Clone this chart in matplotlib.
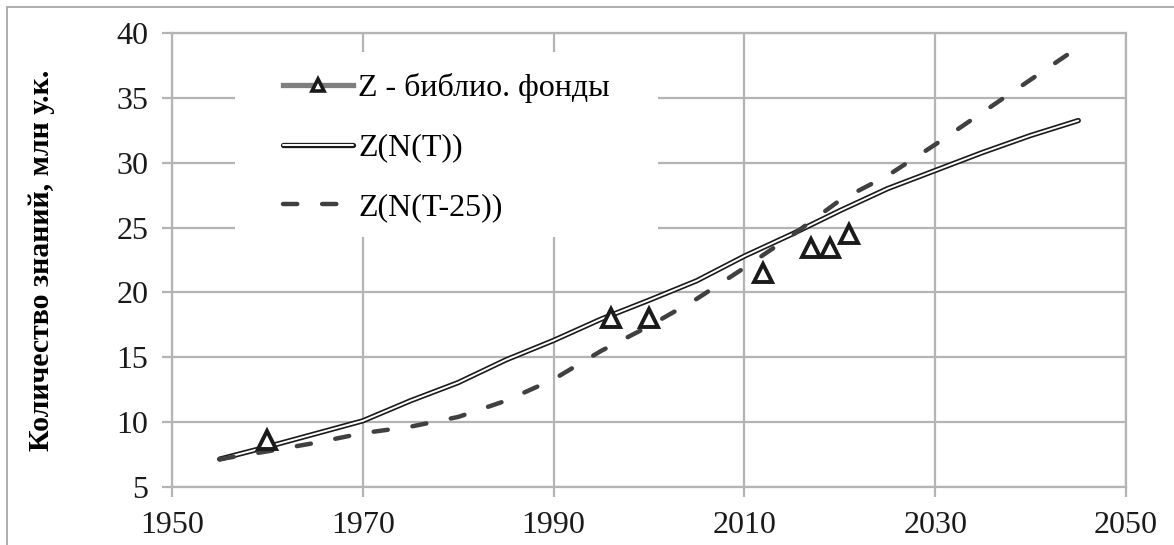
import matplotlib
matplotlib.use('Agg')
from matplotlib import pyplot as plt
from matplotlib.lines import Line2D
from matplotlib.patches import Rectangle

plt.rcParams['font.family'] = ['Liberation Serif', 'DejaVu Serif']

# library holdings (triangles)
years_lib = [1960, 1996, 2000, 2012, 2017, 2019, 2021]
z_lib = [8.6, 18.0, 18.0, 21.5, 23.4, 23.4, 24.5]

# model curves
years = [1955, 1960, 1965, 1970, 1975, 1980, 1985, 1990, 1995, 2000,
         2005, 2010, 2015, 2020, 2025, 2030, 2035, 2040, 2045]
z_nt = [7.15, 8.1, 9.1, 10.1, 11.65, 13.05, 14.8, 16.3, 17.95, 19.4,
        20.9, 22.8, 24.5, 26.3, 28.0, 29.4, 30.8, 32.1, 33.25]
z_nt25 = [7.15, 7.75, 8.4, 9.15, 9.65, 10.4, 11.65, 13.3, 15.5, 17.4,
          19.5, 21.9, 24.4, 27.1, 29.0, 31.4, 33.9, 36.4, 38.9]

grid_c = '#b4b4b4'

fig = plt.figure(figsize=(11.74, 5.45), dpi=100)
ax = fig.add_axes([172/1174, 1 - 487/545, 954/1174, 454/545])

ax.set_xlim(1950, 2050)
ax.set_ylim(5, 40)
ax.set_xticks(range(1950, 2051, 20))
ax.set_yticks(range(5, 41, 5))
ax.grid(True, color=grid_c, lw=1.6)
ax.set_axisbelow(True)
for s in ax.spines.values():
    s.set_color(grid_c)
    s.set_linewidth(1.6)
ax.tick_params(colors=grid_c, width=1.6, length=7, labelcolor='#1a1a1a',
               labelsize=23)
ax.tick_params(axis='y', pad=10)
ax.tick_params(axis='x', pad=10)

# Z(N(T)) - double line
solid_out, = ax.plot(years, z_nt, color='#1a1a1a', lw=3.8,
                     solid_capstyle='round')
solid_in, = ax.plot(years, z_nt, color='white', lw=1.4,
                    solid_capstyle='round')

# Z(N(T-25)) - dashed
dash, = ax.plot(years, z_nt25, color='#404040', lw=3.2, dashes=(3.2, 5.6),
                dash_capstyle='round')

# library data
ax.plot(years_lib, z_lib, ls='none', marker='^', ms=12.5, mew=2.8,
        mec='#1a1a1a', mfc='white', zorder=5)

# white box behind the legend hides the grid
ax.add_patch(Rectangle((235/1174, 1 - 237/545), (658 - 235)/1174,
                       (237 - 52)/545, transform=fig.transFigure,
                       facecolor='white', edgecolor='none', zorder=1))

lib_handle = Line2D([], [], color='#7f7f7f', lw=3.8, marker='^', ms=9,
                    mew=2.6, mec='#1a1a1a', mfc='white')
leg = ax.legend([lib_handle, (solid_out, solid_in), dash],
                ['Z - библио. фонды', 'Z(N(T))', 'Z(N(T-25))'],
                loc='upper left', bbox_to_anchor=(283/1174, 1 - 73/545),
                bbox_transform=fig.transFigure, fontsize=23,
                frameon=False, handlelength=2.2, handletextpad=0.15,
                labelspacing=0.95, borderpad=0, borderaxespad=0)

ax.set_ylabel('Количество знаний, млн у.к.', fontsize=21.5,
              fontweight='bold')
ax.yaxis.set_label_coords(-(172 - 55)/954, 0.5)

# outer frame (right/bottom cut off)
fig.patches.append(Rectangle((7/1174, -0.2), 1.2, 1.2 - 7/545,
                             transform=fig.transFigure, fill=False,
                             edgecolor='#a0a0a0', lw=1.2))

fig.savefig('out.png', dpi=100)
